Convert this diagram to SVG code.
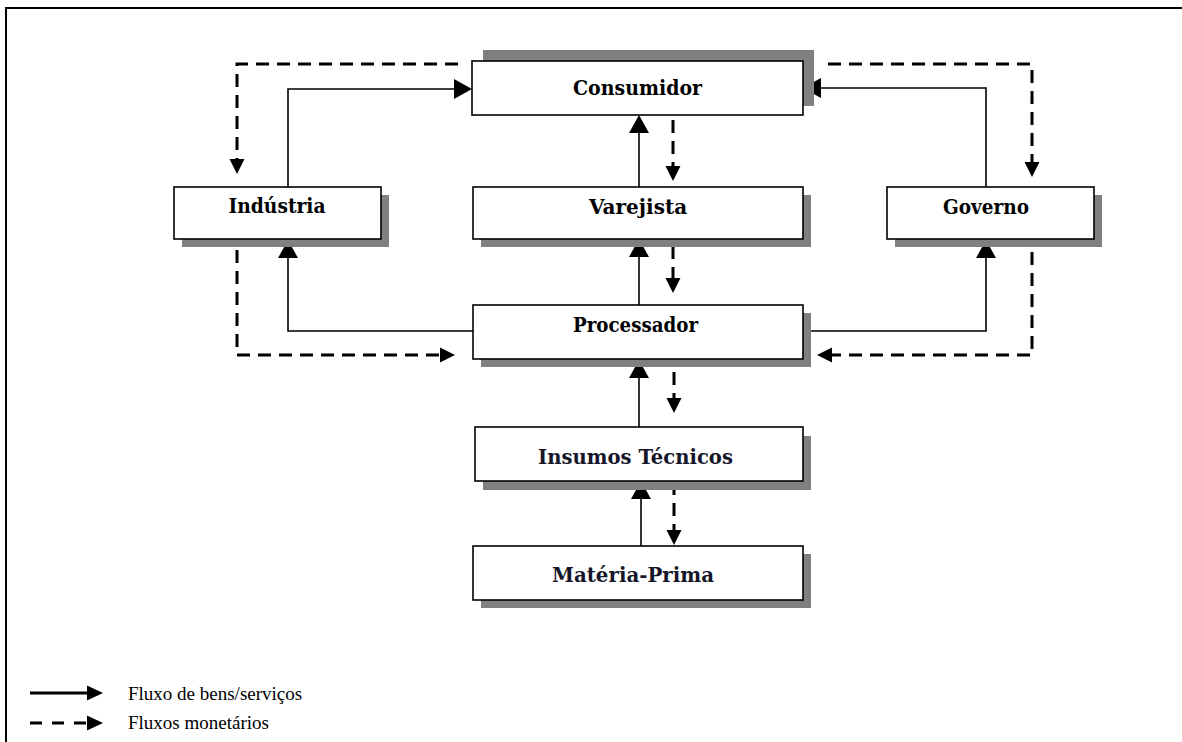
<svg xmlns="http://www.w3.org/2000/svg" width="1182" height="742" viewBox="0 0 1182 742">
  <style>
    .box { fill: #ffffff; stroke: #000000; stroke-width: 1.6; }
    .shadow { fill: #808080; }
    .label { font-family: "DejaVu Serif", "Liberation Serif", serif; font-weight: bold; font-size: 20px; fill: #000000; text-anchor: middle; }
    .label.dark { fill: #16162a; }
    .goods { fill: none; stroke: #000000; stroke-width: 1.6; marker-end: url(#headGoods); }
    .money { fill: none; stroke: #000000; stroke-width: 3; stroke-dasharray: 13 8; marker-end: url(#headMoney); }
    .legend { font-family: "Liberation Serif", "Times New Roman", serif; font-size: 19px; fill: #000000; }
  </style>
  <defs>
    <marker id="headGoods" markerUnits="userSpaceOnUse" markerWidth="18" markerHeight="20" refX="0" refY="10" orient="auto" overflow="visible">
      <path d="M0,0 L18,10 L0,20 Z" fill="#000000"/>
    </marker>
    <marker id="headMoney" markerUnits="userSpaceOnUse" markerWidth="15" markerHeight="15" refX="0" refY="7.5" orient="auto" overflow="visible">
      <path d="M0,0 L15,7.5 L0,15 Z" fill="#000000"/>
    </marker>
    <marker id="headLegend" markerUnits="userSpaceOnUse" markerWidth="16" markerHeight="15" refX="0" refY="7.5" orient="auto" overflow="visible">
      <path d="M0,0 L16,7.5 L0,15 Z" fill="#000000"/>
    </marker>
  </defs>

  <rect width="1182" height="742" fill="#ffffff"/>

  <!-- frame: only the top and left edges fall inside the page -->
  <path d="M6,742 V8 H1182" fill="none" stroke="#000000" stroke-width="2"/>

  <!-- flows between the chain members -->
  <g id="connectors">
    <!-- goods / services -->
    <path class="goods" d="M288,187 V89 H454"/>
    <path class="goods" d="M986,187 V88 H821"/>
    <path class="goods" d="M639,187 V133"/>
    <path class="goods" d="M639,305 V257"/>
    <path class="goods" d="M473,331 H288 V258"/>
    <path class="goods" d="M803,331 H986 V258"/>
    <path class="goods" d="M639,427 V378"/>
    <path class="goods" d="M641,546 V499"/>
    <!-- money -->
    <path class="money" d="M458,64 H237 V159"/>
    <path class="money" d="M828,64 H1032 V162"/>
    <path class="money" d="M673,120 V166"/>
    <path class="money" d="M673,246 V278"/>
    <path class="money" d="M674,372 V398"/>
    <path class="money" d="M674,482 V530"/>
    <path class="money" d="M237,250 V355 H440"/>
    <path class="money" d="M1032,252 V355 H832"/>
  </g>

  <g id="consumidor">
    <rect class="shadow" x="483" y="50" width="331" height="56"/>
    <rect class="box" x="472" y="61" width="331" height="54"/>
    <text class="label" x="637.5" y="95" textLength="129" lengthAdjust="spacingAndGlyphs">Consumidor</text>
  </g>

  <g id="industria">
    <rect class="shadow" x="182" y="195" width="207" height="52"/>
    <rect class="box" x="174" y="187" width="207" height="52"/>
    <text class="label" x="277" y="213" textLength="97" lengthAdjust="spacingAndGlyphs">Indústria</text>
  </g>

  <g id="varejista">
    <rect class="shadow" x="481" y="195" width="330" height="52"/>
    <rect class="box" x="473" y="187" width="330" height="52"/>
    <text class="label" x="638" y="214">Varejista</text>
  </g>

  <g id="governo">
    <rect class="shadow" x="895" y="195" width="207" height="52"/>
    <rect class="box" x="887" y="187" width="207" height="52"/>
    <text class="label" x="986" y="214" textLength="86" lengthAdjust="spacingAndGlyphs">Governo</text>
  </g>

  <g id="processador">
    <rect class="shadow" x="481" y="313" width="330" height="54"/>
    <rect class="box" x="473" y="305" width="330" height="54"/>
    <text class="label" x="635.5" y="332" textLength="125" lengthAdjust="spacingAndGlyphs">Processador</text>
  </g>

  <g id="insumos">
    <rect class="shadow" x="483" y="436" width="328" height="54"/>
    <rect class="box" x="475" y="427" width="328" height="54"/>
    <text class="label dark" x="635.5" y="464" textLength="195" lengthAdjust="spacingAndGlyphs">Insumos Técnicos</text>
  </g>

  <g id="materia-prima">
    <rect class="shadow" x="481" y="554" width="330" height="54"/>
    <rect class="box" x="473" y="546" width="330" height="54"/>
    <text class="label dark" x="633" y="582" textLength="162" lengthAdjust="spacingAndGlyphs">Matéria-Prima</text>
  </g>

  <!-- key -->
  <g id="legend">
    <path d="M30,693 H87" fill="none" stroke="#000000" stroke-width="3" marker-end="url(#headLegend)"/>
    <path d="M30,723 H87" fill="none" stroke="#000000" stroke-width="3" stroke-dasharray="12 10" marker-end="url(#headLegend)"/>
    <text class="legend" x="128" y="700">Fluxo de bens/serviços</text>
    <text class="legend" x="128" y="729">Fluxos monetários</text>
  </g>
</svg>
